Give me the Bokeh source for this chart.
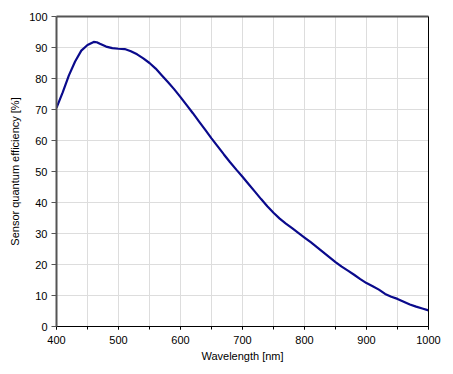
from bokeh.plotting import figure
from bokeh.models import LinearAxis, Range1d, SingleIntervalTicker, FixedTicker
from bokeh.embed import file_html
from bokeh.resources import INLINE

wavelength = [400, 410, 420, 430, 440, 450, 460, 465, 470, 480, 490, 500, 510, 520,
              530, 540, 550, 560, 570, 580, 590, 600, 610, 620, 630, 640, 650, 660,
              670, 680, 690, 700, 710, 720, 730, 740, 750, 760, 770, 780, 790, 800,
              810, 820, 830, 840, 850, 860, 870, 880, 890, 900, 910, 920, 930, 940,
              950, 960, 970, 980, 990, 1000]
qe = [70.5, 75.5, 81.0, 85.5, 89.0, 90.8, 91.8, 91.7, 91.2, 90.3, 89.8, 89.6, 89.5, 88.8,
      87.8, 86.5, 85.0, 83.2, 81.0, 78.8, 76.5, 74.0, 71.4, 68.8, 66.1, 63.4, 60.7, 58.1,
      55.5, 53.0, 50.6, 48.3, 45.9, 43.5, 41.1, 38.8, 36.7, 34.8, 33.2, 31.7, 30.2, 28.7,
      27.2, 25.6, 24.0, 22.4, 20.8, 19.3, 18.0, 16.7, 15.3, 14.0, 13.0, 11.9, 10.5, 9.6,
      8.9, 8.0, 7.1, 6.4, 5.8, 5.2]
x_ticks = [400, 500, 600, 700, 800, 900, 1000]
y_ticks = [0, 10, 20, 30, 40, 50, 60, 70, 80, 90, 100]

FONT = "Liberation Sans"

p = figure(width=448, height=368, output_backend="svg", toolbar_location=None,
           x_range=Range1d(400, 1000), y_range=Range1d(0, 100),
           min_border_left=56, min_border_right=20, min_border_top=16, min_border_bottom=42,
           x_axis_label="Wavelength [nm]", y_axis_label="Sensor quantum efficiency [%]")
p.outline_line_color = None
p.background_fill_color = "white"
p.border_fill_color = "white"

p.line(wavelength, qe, line_color="#0a0a8c", line_width=2.2)

# x axis
xa = p.xaxis[0]
xa.ticker = SingleIntervalTicker(interval=100, num_minor_ticks=2)
xa.axis_line_color = "black"
xa.major_tick_line_color = "black"
xa.minor_tick_line_color = "black"
xa.major_tick_in = 0
xa.major_tick_out = 3
xa.minor_tick_in = 0
xa.minor_tick_out = 3
xa.major_label_standoff = 6
xa.axis_label_standoff = 3

ya = p.yaxis[0]
ya.ticker = FixedTicker(ticks=y_ticks)
ya.axis_line_color = "#555555"
ya.axis_line_width = 2
ya.major_tick_line_color = "#555555"
ya.major_tick_in = 0
ya.major_tick_out = 5
ya.minor_tick_line_color = None
ya.major_label_standoff = 4
ya.axis_label_standoff = 5

for ax in (xa, ya):
    ax.major_label_text_font = FONT
    ax.major_label_text_font_size = "11px"
    ax.major_label_text_color = "black"
    ax.axis_label_text_font = FONT
    ax.axis_label_text_font_size = "11px"
    ax.axis_label_text_font_style = "normal"
    ax.axis_label_text_color = "black"

# top and right frame lines
top = LinearAxis(ticker=FixedTicker(ticks=[]), major_label_text_font_size="0px",
                 axis_line_color="#555555", axis_line_width=2,
                 major_tick_line_color=None, minor_tick_line_color=None)
right = LinearAxis(ticker=FixedTicker(ticks=[]), major_label_text_font_size="0px",
                   axis_line_color="black", axis_line_width=1,
                   major_tick_line_color=None, minor_tick_line_color=None)
p.add_layout(top, "above")
p.add_layout(right, "right")

p.xgrid.grid_line_color = "#dddddd"
p.xgrid.minor_grid_line_color = "#dddddd"
p.xgrid.grid_line_width = 1
p.ygrid.grid_line_color = "#dddddd"
p.ygrid.ticker = FixedTicker(ticks=y_ticks)

open("out.html", "w").write(file_html(p, INLINE))
